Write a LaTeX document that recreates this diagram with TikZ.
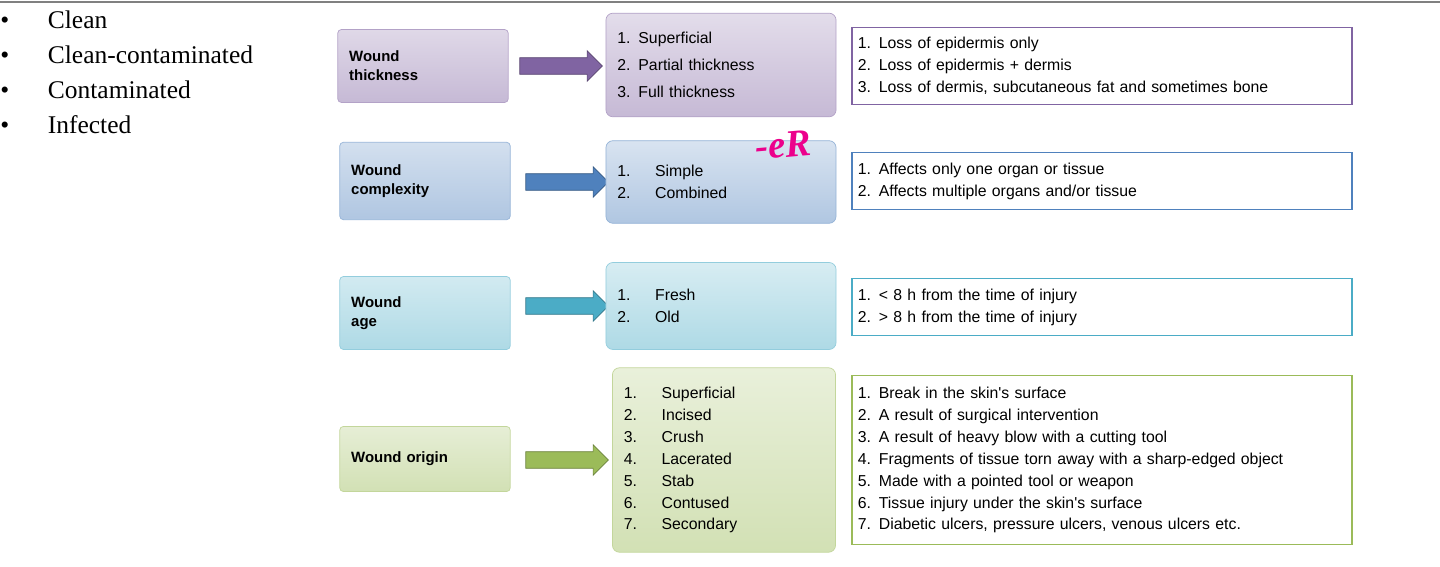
\documentclass[tikz,border=0pt]{standalone}
\usepackage{fontspec}
\setmainfont{Liberation Serif}
\newfontfamily\arial{Liberation Sans}
\usetikzlibrary{shapes.arrows}
\tikzset{
  lbl/.style={rounded corners=2pt, draw=#1!60!white, top color=#1!25!white, bottom color=#1!45!white,
    minimum width=97pt, font=\arial\fontsize{8.5}{11}\selectfont\bfseries, align=left, text width=84pt},
  lst/.style={rounded corners=4pt, draw=#1!60!white, top color=#1!22!white, bottom color=#1!45!white,
    minimum width=131pt, font=\arial\fontsize{9}{15.4}\selectfont, align=left, text width=118pt},
  dsc/.style={draw=#1, line width=0.8pt, fill=white, minimum width=284pt,
    font=\arial\fontsize{9}{12.5}\selectfont, align=left, text width=278pt},
  arr/.style={single arrow, fill=#1, draw=#1!70!black, single arrow head extend=4pt,
    minimum height=47pt, inner xsep=0pt, inner ysep=4.5pt}
}
\definecolor{cpurple}{HTML}{8064A2}
\definecolor{cblue}{HTML}{4F81BD}
\definecolor{ccyan}{HTML}{4BACC6}
\definecolor{cgreen}{HTML}{9BBB59}
\begin{document}
\begin{tikzpicture}[x=0.02cm, y=-0.02cm]
	\useasboundingbox (0,0) rectangle (1440,567);
	\draw[gray, line width=1pt] (0,2) -- (1440,2);

	% bullet list
	\node[anchor=north west, font=\fontsize{14.5}{20}\selectfont, align=left, inner sep=0pt](bullets) at (0,10) {%
		\textbullet\hspace{22pt}Clean\\
		\textbullet\hspace{22pt}Clean-contaminated\\
		\textbullet\hspace{22pt}Contaminated\\
		\textbullet\hspace{22pt}Infected};

	% thickness
	\node[lbl=cpurple, minimum height=41.5pt](l1) at (423,66) {Wound\\thickness};
	\node[arr=cpurple](a1) at (557,66) {};
	\node[lst=cpurple, minimum height=59pt](s1) at (721,65) {1. Superficial\\2. Partial thickness\\3. Full thickness};
	\node[dsc=cpurple, minimum height=44pt](d1) at (1102,66) {1. Loss of epidermis only\\2. Loss of epidermis + dermis\\3. Loss of dermis, subcutaneous fat and sometimes bone};

	% complexity
	\node[lbl=cblue, minimum height=44pt](l2) at (425,181) {Wound\\complexity};
	\node[arr=cblue](a2) at (563,182) {};
	\node[lst=cblue, minimum height=47pt, font=\arial\fontsize{9}{12.5}\selectfont](s2) at (721,182) {1.\hspace{14pt}Simple\\2.\hspace{14pt}Combined\\[8pt]};
	\node[dsc=cblue, minimum height=32.5pt](d2) at (1102,181) {1. Affects only one organ or tissue\\2. Affects multiple organs and/or tissue};
	\node[text=magenta, font=\fontsize{22}{22}\selectfont\itshape\bfseries, rotate=5](er) at (783,145) {-eR};

	% age
	\node[lbl=ccyan, minimum height=41.5pt](l3) at (425,313) {Wound\\age};
	\node[arr=ccyan](a3) at (563,306) {};
	\node[lst=ccyan, minimum height=49.5pt, font=\arial\fontsize{9}{12.5}\selectfont](s3) at (721,306) {1.\hspace{14pt}Fresh\\2.\hspace{14pt}Old\\[10pt]};
	\node[dsc=ccyan, minimum height=32.5pt](d3) at (1102,307) {1. < 8 h from the time of injury\\2. > 8 h from the time of injury};

	% origin
	\node[lbl=cgreen, minimum height=37pt](l4) at (425,459) {Wound origin};
	\node[arr=cgreen](a4) at (563,460) {};
	\node[lst=cgreen, minimum width=127pt, text width=114pt, minimum height=105pt, font=\arial\fontsize{9}{12.5}\selectfont](s4) at (724,460)
		{1.\hspace{14pt}Superficial\\2.\hspace{14pt}Incised\\3.\hspace{14pt}Crush\\4.\hspace{14pt}Lacerated\\5.\hspace{14pt}Stab\\6.\hspace{14pt}Contused\\7.\hspace{14pt}Secondary\\[8pt]};
	\node[dsc=cgreen, minimum height=96pt](d4) at (1102,460)
		{1. Break in the skin's surface\\2. A result of surgical intervention\\3. A result of heavy blow with a cutting tool\\4. Fragments of tissue torn away with a sharp-edged object\\5. Made with a pointed tool or weapon\\6. Tissue injury under the skin's surface\\7. Diabetic ulcers, pressure ulcers, venous ulcers etc.};
\end{tikzpicture}
\end{document}
